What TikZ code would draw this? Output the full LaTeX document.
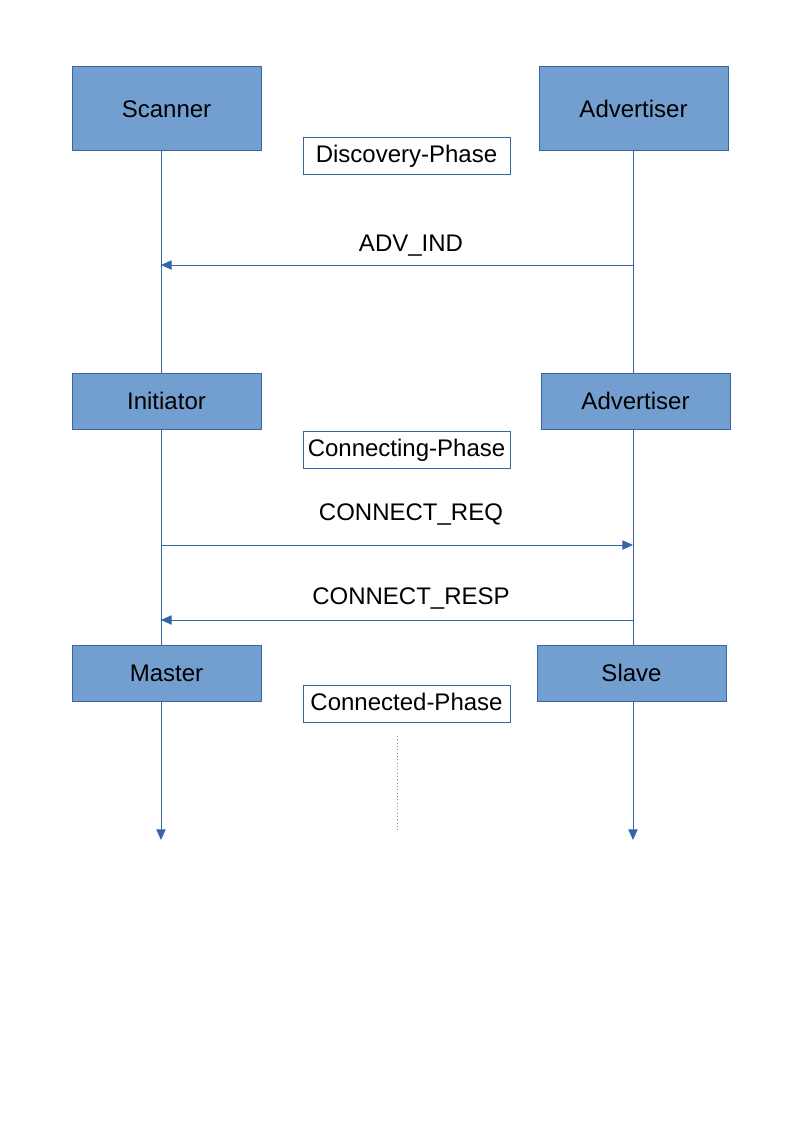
\documentclass[tikz,border=0pt]{standalone}
\usepackage{fontspec}
\setmainfont{Liberation Sans}
\usepackage{tikz}
\usetikzlibrary{arrows.meta, positioning}
\usepackage{xcolor}
\definecolor{roleblue}{HTML}{729FCF}
\definecolor{lineblue}{HTML}{3465A4}

\begin{document}
\begin{tikzpicture}[x=0.75pt, y=-0.75pt,
    role/.style={draw=lineblue, fill=roleblue, line width=0.75pt, minimum width=141.75pt, inner sep=0pt, font=\fontsize{18}{20}\selectfont},
    phase/.style={draw=lineblue, fill=white, line width=0.6pt, minimum width=155.25pt, minimum height=27.75pt, inner sep=0pt, text height=12.5pt, text depth=2.5pt, font=\fontsize{18}{20}\selectfont},
    msg/.style={font=\fontsize{18}{20}\selectfont},
    life/.style={draw=lineblue, line width=0.75pt},
    arr/.style={life, -{Triangle[length=8pt, width=7pt]}}]
    \useasboundingbox (0,0) rectangle (794,1123);

    % Rollen
    \node[role, minimum height=63pt] (scan) at (166.5,109) {Scanner};
    \node[role, minimum height=63pt] (adva) at (633.5,109) {Advertiser};
    \node[role, minimum height=42pt] (init) at (166.5,401) {Initiator};
    \node[role, minimum height=42pt] (advb) at (635.5,401) {Advertiser};
    \node[role, minimum height=42pt] (mast) at (166.5,673) {Master};
    \node[role, minimum height=42pt] (slav) at (631.5,673) {Slave};

    % Phasen
    \node[phase] (disc) at (406.5,155.5) {Discovery-Phase};
    \node[phase] (conn) at (406.5,449.5) {Connecting-Phase};
    \node[phase] (cted) at (406.5,703.5) {Connected-Phase};

    % Lebenslinien
    \coordinate (lifeL) at (161,0);
    \coordinate (lifeR) at (633,0);
    \coordinate (endL) at (161,840);
    \coordinate (endR) at (633,840);
    \draw[life] (scan.south -| lifeL) -- (init.north -| lifeL);
    \draw[life] (init.south -| lifeL) -- (mast.north -| lifeL);
    \draw[arr] (mast.south -| lifeL) -- (endL);
    \draw[life] (adva.south -| lifeR) -- (advb.north -| lifeR);
    \draw[life] (advb.south -| lifeR) -- (slav.north -| lifeR);
    \draw[arr] (slav.south -| lifeR) -- (endR);

    % Nachrichten
    \coordinate (advR) at (633,265);
    \coordinate (advL) at (161,265);
    \coordinate (reqL) at (161,545);
    \coordinate (reqR) at (633,545);
    \coordinate (rspR) at (633,620);
    \coordinate (rspL) at (161,620);
    \draw[arr] (advR) -- (advL);
    \draw[arr] (reqL) -- (reqR);
    \draw[arr] (rspR) -- (rspL);
    \node[msg] (advlbl) at (411,246) {ADV\_IND};
    \node[msg] (reqlbl) at (411,515) {CONNECT\_REQ};
    \node[msg] (rsplbl) at (411,598) {CONNECT\_RESP};

    % Fortsetzung
    \coordinate (dotA) at (397,736);
    \coordinate (dotB) at (397,830);
    \draw[lineblue!70, dotted, line width=0.5pt] (dotA) -- (dotB);
\end{tikzpicture}
\end{document}
